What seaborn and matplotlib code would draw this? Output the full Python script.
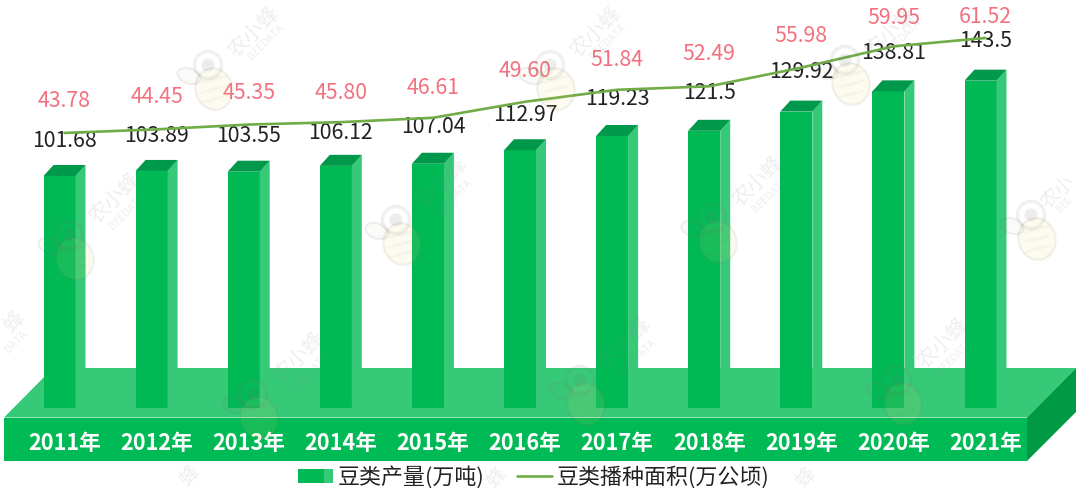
import numpy as np
import pandas as pd
import matplotlib
matplotlib.use("Agg")
import matplotlib.pyplot as plt
import seaborn as sns
from matplotlib.patches import Polygon, Rectangle, Ellipse, Patch
from matplotlib.legend_handler import HandlerBase
from matplotlib.transforms import Affine2D

years = ["2011年", "2012年", "2013年", "2014年", "2015年", "2016年",
         "2017年", "2018年", "2019年", "2020年", "2021年"]
output_wt = [101.68, 103.89, 103.55, 106.12, 107.04, 112.97,
             119.23, 121.5, 129.92, 138.81, 143.5]
area_ha = [43.78, 44.45, 45.35, 45.80, 46.61, 49.60,
           51.84, 52.49, 55.98, 59.95, 61.52]
bar_name = "豆类产量(万吨)"
line_name = "豆类播种面积(万公顷)"

# label nudges, in pixels above the mark
black_nudge = [35, 35, 36, 33, 37, 35, 37, 38, 40, 38, 40]
pink_nudge = [32, 32, 32, 29, 30, 31, 30, 32, 32, 28, 21]

FRONT, SIDE, TOP = "#00b955", "#36c978", "#00984a"
PLAT_FRONT, PLAT_TOP, PLAT_SIDE = "#00ba55", "#36c977", "#009a45"
LINE, PINK, INK = "#70ad47", "#f4707f", "#222222"

W, H = 1080, 493
sns.set_theme(style="white")
plt.rcParams["font.family"] = ["Noto Sans CJK SC", "DejaVu Sans"]

fig = plt.figure(figsize=(W / 100, H / 100), dpi=100)
ax = fig.add_axes([0, 0, 1, 1])
PX = Affine2D().scale(1, -1).translate(0, H)

# scales: pixel position of the zero lines and pixels per unit
X0, XK = 64.5, 92.1
Y0, YK = 407.7, 2.279
L0, LK = 367.4, 5.355

df = pd.DataFrame({"year": years, "output": output_wt, "area": area_ha})
sns.barplot(data=df, x="year", y="output", ax=ax, color=FRONT, saturation=1,
            width=42 / XK, zorder=3)
ax.set_xlim(-X0 / XK, (W - X0) / XK)
ax.set_ylim(-(H - Y0) / YK, Y0 / YK)
ax.set_xlabel("")
ax.set_ylabel("")
ax.set_yticks([])
ax.set_axisbelow(False)
for s in ax.spines.values():
    s.set_visible(False)
ax.tick_params(axis="x", length=0, pad=-61 * 0.72, labelsize=15.6, labelcolor="white")
for t in ax.get_xticklabels():
    t.set_fontweight("bold")

# 3-D faces of every bar, derived from the bar that seaborn drew
fw, ddx, ddy = 32 / XK, 10 / XK, 11 / YK
for p in ax.patches:
    x, h = p.get_x(), p.get_height()
    p.set_width(fw)
    p.set_edgecolor("none")
    ax.add_patch(Polygon([(x + fw, 0), (x + fw + ddx, ddy), (x + fw + ddx, h + ddy), (x + fw, h)],
                         fc=SIDE, ec="none", zorder=3))
    ax.add_patch(Polygon([(x, h), (x + ddx, h + ddy), (x + fw + ddx, h + ddy), (x + fw, h)],
                         fc=TOP, ec="none", zorder=3))

# platform
for pts, c in [([(4, 417.5), (1027, 417.5), (1076, 368), (53, 368)], PLAT_TOP),
               ([(4, 417.5), (1027, 417.5), (1027, 461), (4, 461)], PLAT_FRONT),
               ([(1027, 417.5), (1076, 368), (1076, 412), (1027, 461)], PLAT_SIDE)]:
    ax.add_patch(Polygon(pts, fc=c, ec="none", transform=PX, zorder=1))

# area line on its own scale
ax2 = ax.twinx()
ax2.set_position([0, 0, 1, 1])
ax2.patch.set_visible(False)
sns.lineplot(x=np.arange(len(years)), y=area_ha, ax=ax2, color=LINE, lw=1.9, legend=False, zorder=4)
ax2.set_ylim(-(H - L0) / LK, L0 / LK)
ax2.set_yticks([])
ax2.set_ylabel("")
for s in ax2.spines.values():
    s.set_visible(False)

for i, (v, n) in enumerate(zip(output_wt, black_nudge)):
    ax.annotate(f"{v:g}", (i, v), xytext=(0, n * 0.72), textcoords="offset points",
                ha="center", va="center", fontsize=15.3, color=INK, zorder=6)
for i, (v, n) in enumerate(zip(area_ha, pink_nudge)):
    ax2.annotate(f"{v:.2f}", (i, v), xytext=(0, n * 0.72), textcoords="offset points",
                 ha="center", va="center", fontsize=15.3, color=PINK, zorder=6)


class TwoTone(HandlerBase):
    def create_artists(self, legend, orig, xd, yd, w, h, fs, trans):
        h2 = 14 * 0.72
        y0 = (h - h2) / 2 - yd
        return [Rectangle((-xd, y0), w * 0.75, h2, fc=FRONT, ec="none", transform=trans),
                Rectangle((-xd + w * 0.75, y0), w * 0.25, h2, fc=SIDE, ec="none", transform=trans)]


proxy = Patch(label=bar_name)
line_handle = plt.Line2D([], [], color=LINE, lw=1.9, label=line_name)
leg = ax2.legend(handles=[proxy, line_handle], handler_map={proxy: TwoTone()},
                 loc="center left", bbox_to_anchor=(298 / W, 1 - 477 / H), bbox_transform=fig.transFigure,
                 ncol=2, frameon=False, fontsize=15.8, labelcolor="#222222",
                 borderpad=0, borderaxespad=0, handlelength=1.6, handletextpad=0.2, columnspacing=1.5)
leg.set_zorder(7)

# faint logo watermark, laid over everything
heads = [(69, 235), (396, 220), (712, 218), (1031, 215), (253, 394), (580, 380),
         (897, 380), (208, 65), (550, 65), (845, 60)]
EDGE = (0.45, 0.45, 0.40, 0.10)
for hx, hy in heads:
    ax2.add_patch(Ellipse((hx + 6, hy + 24), 37, 42, angle=-15, fc=(0.93, 0.85, 0.45, 0.10), ec=EDGE, lw=1.5,
                          transform=PX, zorder=8))
    for k in (14, 24, 34):
        ax2.add_patch(Ellipse((hx + 6, hy + k), 30, 3, angle=-15, fc=(0.5, 0.5, 0.4, 0.05), ec="none",
                              transform=PX, zorder=8))
    ax2.add_patch(Ellipse((hx - 19, hy + 11), 24, 15, angle=20, fc=(0.5, 0.5, 0.45, 0.04), ec=EDGE, lw=1.5,
                          transform=PX, zorder=8))
    ax2.add_patch(Ellipse((hx, hy), 27, 27, fc=(1, 1, 1, 0.02), ec=EDGE, lw=2.5, transform=PX, zorder=8))
    ax2.add_patch(Ellipse((hx, hy), 13, 13, fc=(0.4, 0.42, 0.4, 0.12), ec="none", transform=PX, zorder=8))

marks = [("农小蜂", h[0] + 46, max(h[1] - 37, 32), 15) for h in heads if h[0] < 1000]
marks += [("BEEDATA", h[0] + 58, max(h[1] - 23, 30), 7.5) for h in heads if h[0] < 1000]
marks += [("农小", 1058, 192, 14), ("BEE", 1064, 205, 7),
          ("蜂", 14, 322, 15), ("DATA", 16, 342, 7.5),
          ("蜂", 190, 476, 14), ("蜂", 497, 478, 14), ("蜂", 806, 478, 14)]
for txt, mx, my, fs in marks:
    ax2.text(mx, my, txt, rotation=45, ha="center", va="center", fontsize=fs,
             color="#8a8a8a", alpha=0.14, transform=PX, zorder=8)

fig.savefig("out.png", dpi=100, facecolor="white")
